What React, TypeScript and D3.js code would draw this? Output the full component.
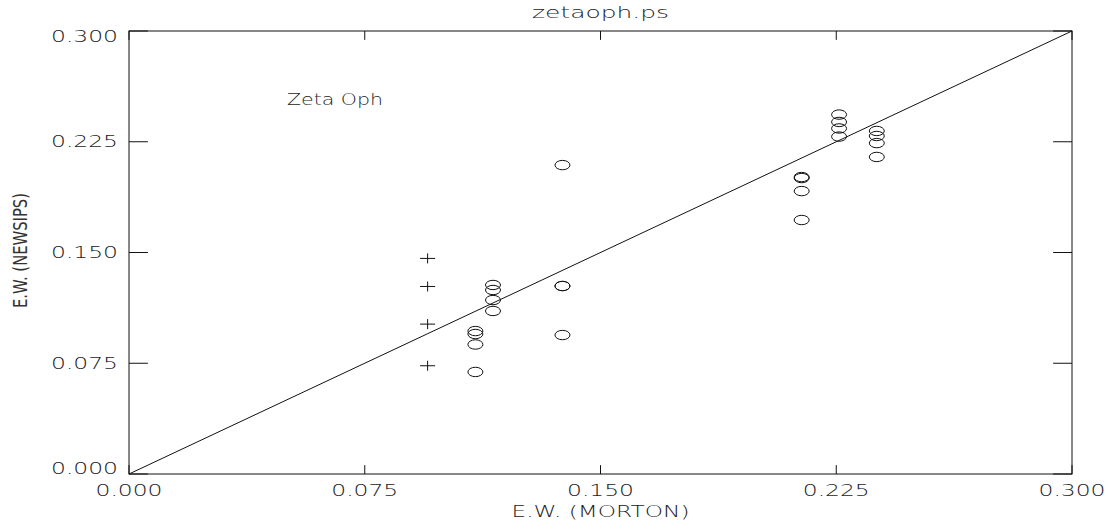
import React from "react";
import * as d3 from "d3";

// Equivalent widths: Morton reference values vs. NEWSIPS measurements for Zeta Oph
const plusX = [0.095, 0.095, 0.095, 0.095];
const plusY = [0.146, 0.127, 0.1015, 0.0733];

const circleX = [
  0.1102, 0.1102, 0.1102, 0.1102,
  0.1158, 0.1158, 0.1158, 0.1158,
  0.1379, 0.1379, 0.1379, 0.1379,
  0.214, 0.214, 0.214, 0.214,
  0.2259, 0.2259, 0.2259, 0.2259,
  0.2379, 0.2379, 0.2379, 0.2379,
];
const circleY = [
  0.0968, 0.0948, 0.0877, 0.0691,
  0.128, 0.1246, 0.1178, 0.1104,
  0.2092, 0.1273, 0.1273, 0.0941,
  0.2011, 0.2004, 0.1916, 0.172,
  0.2434, 0.2384, 0.234, 0.2285,
  0.2323, 0.2289, 0.2241, 0.2147,
];

const tickValues = [0, 0.075, 0.15, 0.225, 0.3];
const tickLabels = ["0.000", "0.075", "0.150", "0.225", "0.300"];

const title = "zetaoph.ps";
const xTitle = "E.W. (MORTON)";
const yTitle = "E.W. (NEWSIPS)";
const annotation = "Zeta Oph";

const W = 1113;
const H = 521;
const left = 129;
const right = 1072;
const top = 31;
const bottom = 474;

const FONT = "'DejaVu Sans', sans-serif";
const INK = "#111";
const TEXT_INK = "#222";

export default function App() {
  const x = d3.scaleLinear().domain([0, 0.3]).range([left, right]);
  const y = d3.scaleLinear().domain([0, 0.3]).range([bottom, top]);

  const xTickLen = (bottom - top) * 0.02;
  const yTickLen = (right - left) * 0.02;

  const line = d3.line<[number, number]>()
    .x((d) => x(d[0]))
    .y((d) => y(d[1]));

  const labelW = 67;

  return (
    <svg
      width={W}
      height={H}
      viewBox={`0 0 ${W} ${H}`}
      style={{ position: "absolute", left: 0, top: 0, background: "#fff" }}
    >
      <rect x={0} y={0} width={W} height={H} fill="#fff" />
      <g fill="none" stroke={INK} strokeWidth={1}>
        <rect x={left} y={top} width={right - left} height={bottom - top} />
        {tickValues.map((t, i) => (
          <g key={"t" + i}>
            <line x1={x(t)} x2={x(t)} y1={bottom} y2={bottom - xTickLen} />
            <line x1={x(t)} x2={x(t)} y1={top} y2={top + xTickLen} />
            <line x1={left} x2={left + yTickLen} y1={y(t)} y2={y(t)} />
            <line x1={right} x2={right - yTickLen} y1={y(t)} y2={y(t)} />
          </g>
        ))}
        <path d={line([[0, 0], [0.3, 0.3]]) || ""} />
        {circleX.map((cx, i) => (
          <ellipse key={"c" + i} cx={x(cx)} cy={y(circleY[i])} rx={7.5} ry={4.7} />
        ))}
        {plusX.map((px, i) => (
          <g key={"p" + i}>
            <line x1={x(px) - 7.5} x2={x(px) + 7.5} y1={y(plusY[i])} y2={y(plusY[i])} />
            <line x1={x(px)} x2={x(px)} y1={y(plusY[i]) - 5} y2={y(plusY[i]) + 5} />
          </g>
        ))}
      </g>
      <g fill={TEXT_INK} fontFamily={FONT} fontWeight={200} fontSize={15}>
        {tickValues.map((t, i) => (
          <text
            key={"xl" + i}
            x={x(t)}
            y={496}
            textAnchor="middle"
            textLength={labelW}
            lengthAdjust="spacingAndGlyphs"
          >
            {tickLabels[i]}
          </text>
        ))}
        {tickValues.map((t, i) => {
          const cy = i === 0 ? y(t) - 5.5 : i === tickValues.length - 1 ? y(t) + 5.5 : y(t);
          return (
            <text
              key={"yl" + i}
              x={118}
              y={cy + 5.5}
              textAnchor="end"
              textLength={labelW}
              lengthAdjust="spacingAndGlyphs"
            >
              {tickLabels[i]}
            </text>
          );
        })}
        <text
          x={(left + right) / 2}
          y={517}
          textAnchor="middle"
          textLength={178}
          lengthAdjust="spacingAndGlyphs"
        >
          {xTitle}
        </text>
        <text
          x={(left + right) / 2}
          y={18}
          textAnchor="middle"
          textLength={137}
          lengthAdjust="spacingAndGlyphs"
        >
          {title}
        </text>
        <text
          x={287}
          y={105}
          textLength={96}
          lengthAdjust="spacingAndGlyphs"
        >
          {annotation}
        </text>
        <text
          transform={`translate(27, ${250.5}) rotate(-90)`}
          textAnchor="middle"
          fontSize={19}
          fontWeight={400}
          fill="#333"
          textLength={115}
          lengthAdjust="spacingAndGlyphs"
        >
          {yTitle}
        </text>
      </g>
    </svg>
  );
}
